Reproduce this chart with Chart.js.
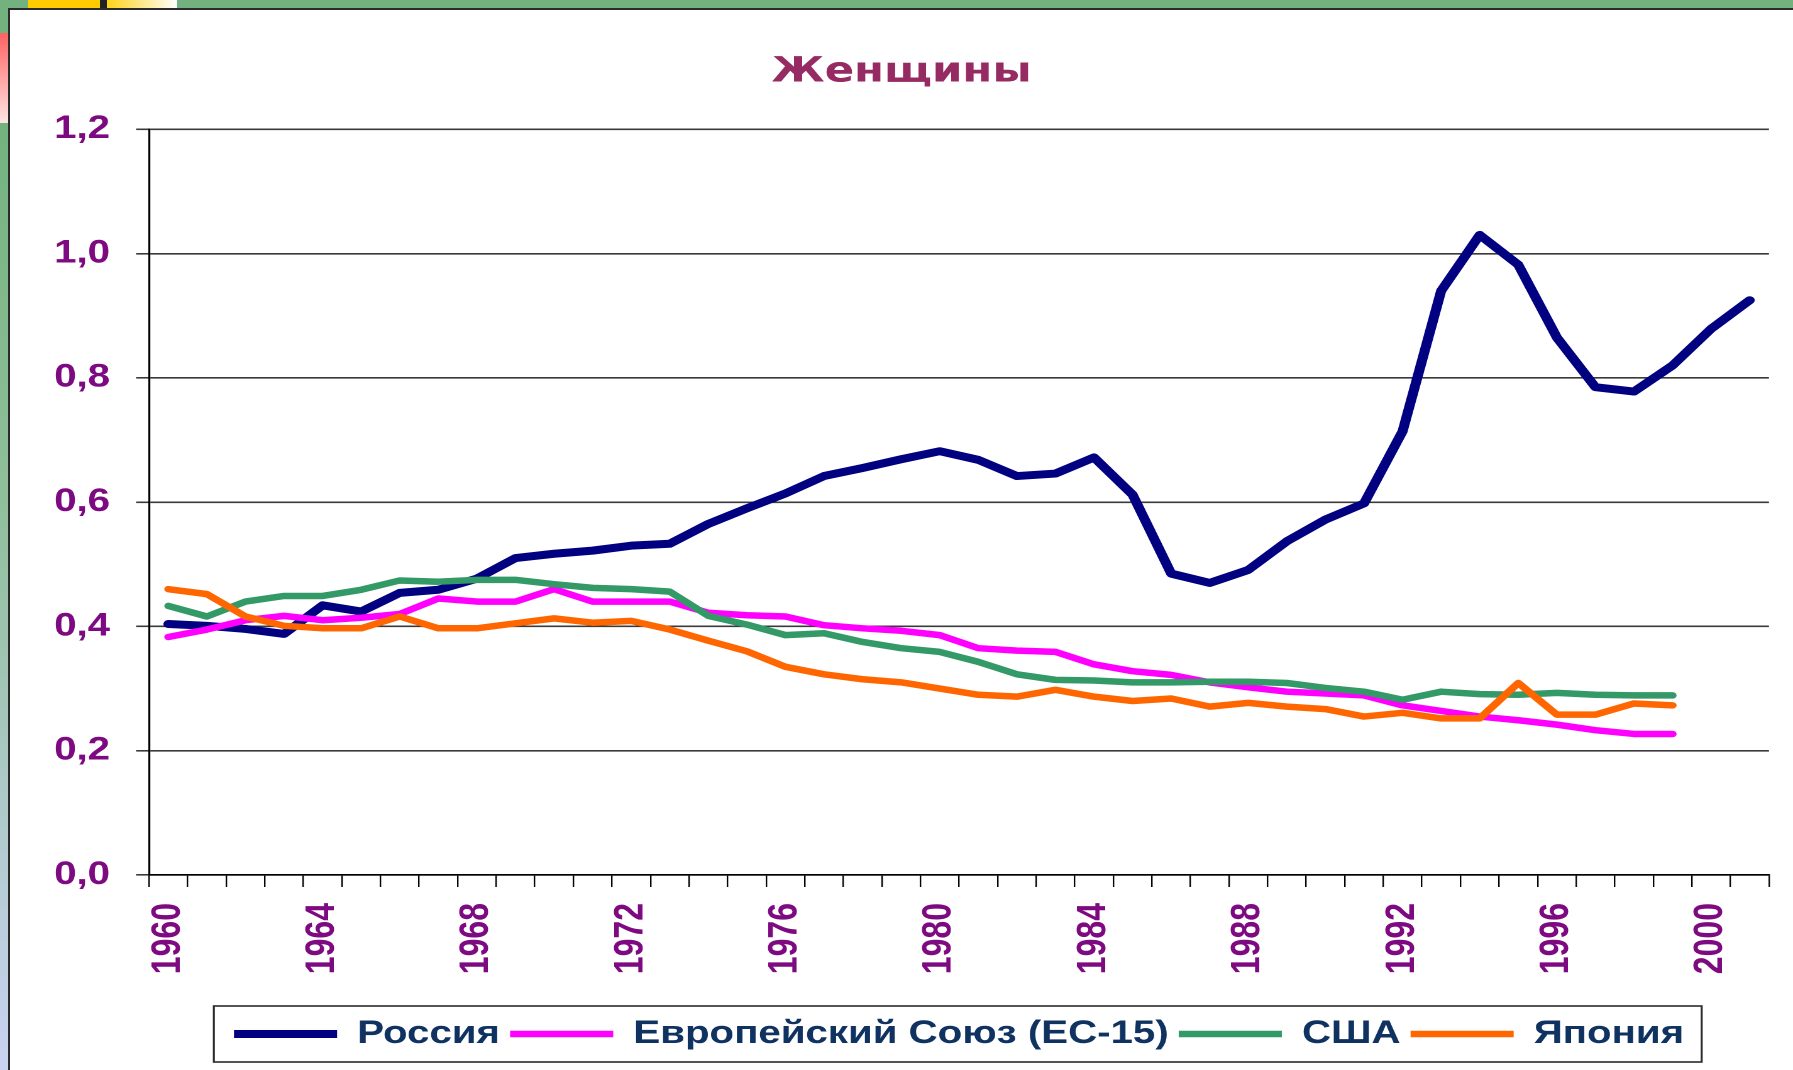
<!DOCTYPE html>
<html>
<head>
<meta charset="utf-8">
<script src="https://cdn.jsdelivr.net/npm/chart.js@4.4.1/dist/chart.umd.min.js"></script>
<style>
  html, body { margin:0; padding:0; width:1793px; height:1070px; overflow:hidden; background:#73b27f; }
  #leftstrip { position:absolute; left:0; top:0; width:8px; height:1070px;
    background: linear-gradient(to bottom, #73b27f 0px, #73b27f 123px, #8fbf9a 500px, #c9d2f2 1070px); }
  #redbar { position:absolute; left:0; top:33px; width:8px; height:90px;
    background: linear-gradient(to bottom, #ff6262, #ffe4e4); }
  #yel { position:absolute; left:28px; top:0; width:72px; height:8px; background:#ffcc00; }
  #blk { position:absolute; left:100px; top:0; width:7px; height:8px; background:#222; }
  #grad { position:absolute; left:107px; top:0; width:70px; height:8px; background:linear-gradient(to right, #ffd21a, #ffffff); }
  #panel { position:absolute; left:8px; top:8px; width:1785px; height:1062px; background:#fff;
    border-left:2px solid #2b2b2b; border-top:2px solid #2b2b2b; box-sizing:border-box; }
  #wrap { position:absolute; left:10px; top:0; width:1418px; height:1070px;
    transform: scaleX(1.25740); transform-origin: 0 0; }
</style>
</head>
<body>
<div id="leftstrip"></div>
<div id="redbar"></div>
<div id="yel"></div><div id="blk"></div><div id="grad"></div>
<div id="panel"></div>
<div id="wrap"><canvas id="c" width="1418" height="1070"></canvas></div>
<script>
const years = ["1960","1961","1962","1963","1964","1965","1966","1967","1968","1969",
  "1970","1971","1972","1973","1974","1975","1976","1977","1978","1979",
  "1980","1981","1982","1983","1984","1985","1986","1987","1988","1989",
  "1990","1991","1992","1993","1994","1995","1996","1997","1998","1999",
  "2000","2001"];

const russia = [0.404,0.401,0.396,0.388,0.434,0.424,0.454,0.459,0.477,0.510,
  0.517,0.522,0.530,0.533,0.565,0.590,0.614,0.642,0.655,0.669,
  0.682,0.668,0.642,0.646,0.672,0.612,0.485,0.470,0.491,0.537,
  0.572,0.598,0.714,0.940,1.030,0.982,0.865,0.785,0.778,0.820,
  0.879,0.925];

const eu15 = [0.383,0.395,0.410,0.417,0.410,0.414,0.420,0.445,0.440,0.440,
  0.460,0.440,0.440,0.440,0.422,0.418,0.416,0.402,0.397,0.393,
  0.386,0.365,0.361,0.359,0.339,0.328,0.322,0.310,0.302,0.295,
  0.292,0.289,0.273,0.264,0.255,0.249,0.242,0.233,0.227,0.227];

const usa = [0.433,0.416,0.440,0.449,0.449,0.459,0.474,0.472,0.475,0.475,
  0.468,0.462,0.460,0.456,0.417,0.403,0.386,0.389,0.375,0.365,
  0.359,0.343,0.323,0.314,0.313,0.310,0.310,0.311,0.311,0.309,
  0.301,0.295,0.282,0.295,0.291,0.290,0.293,0.290,0.289,0.289];

const japan = [0.460,0.452,0.416,0.401,0.397,0.397,0.416,0.397,0.397,0.405,
  0.413,0.406,0.409,0.395,0.377,0.360,0.335,0.323,0.315,0.310,
  0.300,0.290,0.287,0.298,0.287,0.280,0.284,0.271,0.277,0.271,
  0.267,0.255,0.261,0.252,0.252,0.309,0.258,0.258,0.276,0.273];

const seriesNames = ["Россия", "Европейский Союз (ЕС-15)", "США", "Япония"];
const yTicks = [0, 0.2, 0.4, 0.6, 0.8, 1.0, 1.2];
const titleText = "Женщины";

const arial = "'Liberation Sans', Arial, sans-serif";
const tickColor = "#7d0a80";

const legendBox = {
  id: 'legendBox',
  afterDraw(chart) {
    const lg = chart.legend;
    if (!lg || !lg.legendHitBoxes || !lg.legendHitBoxes.length) return;
    const hb = lg.legendHitBoxes;
    let l = Infinity, r = -Infinity, cy = 0;
    hb.forEach(b => { l = Math.min(l, b.left); r = Math.max(r, b.left + b.width); cy = b.top + b.height / 2; });
    const ctx = chart.ctx;
    ctx.save();
    ctx.strokeStyle = '#2b2b2b';
    ctx.lineWidth = 1.6;
    ctx.strokeRect(l - 16, cy - 28, (r - l) + 30, 56);
    ctx.restore();
  }
};

const mk = (label, data, color, w, order) => ({
  label, data, borderColor: color, backgroundColor: color, borderWidth: w,
  pointRadius: 0, pointHoverRadius: 0, tension: 0, fill: false,
  borderCapStyle: 'round', borderJoinStyle: 'round', order
});

new Chart(document.getElementById('c'), {
  type: 'line',
  data: {
    labels: years,
    datasets: [
      mk(seriesNames[0], russia, '#000080', 8, 3),
      mk(seriesNames[1], eu15, '#ff00ff', 6.5, 2),
      mk(seriesNames[2], usa, '#339966', 6.5, 1),
      mk(seriesNames[3], japan, '#ff6600', 6.5, 0)
    ]
  },
  options: {
    responsive: false,
    animation: false,
    devicePixelRatio: 2,
    layout: { padding: { left: 0, right: 0, top: 0, bottom: 10 } },
    plugins: {
      title: {
        display: true, text: titleText, color: '#962a62',
        font: { family: "'DejaVu Sans', sans-serif", weight: 'bold', size: 34.5, lineHeight: 1.2 },
        padding: { top: 52, bottom: 35.9 }
      },
      legend: {
        position: 'bottom', fullSize: false, align: 'center',
        labels: {
          usePointStyle: true, pointStyle: 'line', pointStyleWidth: 82,
          padding: 8, color: '#103261',
          font: { family: arial, weight: 'bold', size: 32 },
          sort: (a, b) => a.datasetIndex - b.datasetIndex
        }
      },
      tooltip: { enabled: false }
    },
    scales: {
      x: {
        type: 'category', offset: true,
        afterFit(s) { s.height = 135; s.paddingLeft = 0; s.paddingRight = 19.1; },
        grid: { display: true, drawOnChartArea: false, drawTicks: true, tickLength: 12, color: '#000', lineWidth: 1.2, offset: true },
        border: { display: true, color: '#000', width: 1.6 },
        ticks: {
          autoSkip: false, maxRotation: 90, minRotation: 90, padding: 16,
          color: tickColor, font: { family: arial, weight: 'bold', size: 32 },
          callback: function (v) { const y = this.getLabelForValue(v); return (parseInt(y, 10) % 4 === 0) ? y : ''; }
        }
      },
      y: {
        min: 0, max: 1.2,
        afterFit(s) { s.width = 110.6; },
        afterBuildTicks(s) { s.ticks = yTicks.map(v => ({ value: v })); },
        grid: { color: '#3a3a3a', lineWidth: 1.6, tickLength: 10.3, drawTicks: true },
        border: { display: true, color: '#000', width: 1.6 },
        ticks: {
          padding: 20.7, color: tickColor,
          font: { family: arial, weight: 'bold', size: 32 },
          callback: v => Number(v).toFixed(1).replace('.', ',')
        }
      }
    }
  },
  plugins: [legendBox]
});
</script>
</body>
</html>
